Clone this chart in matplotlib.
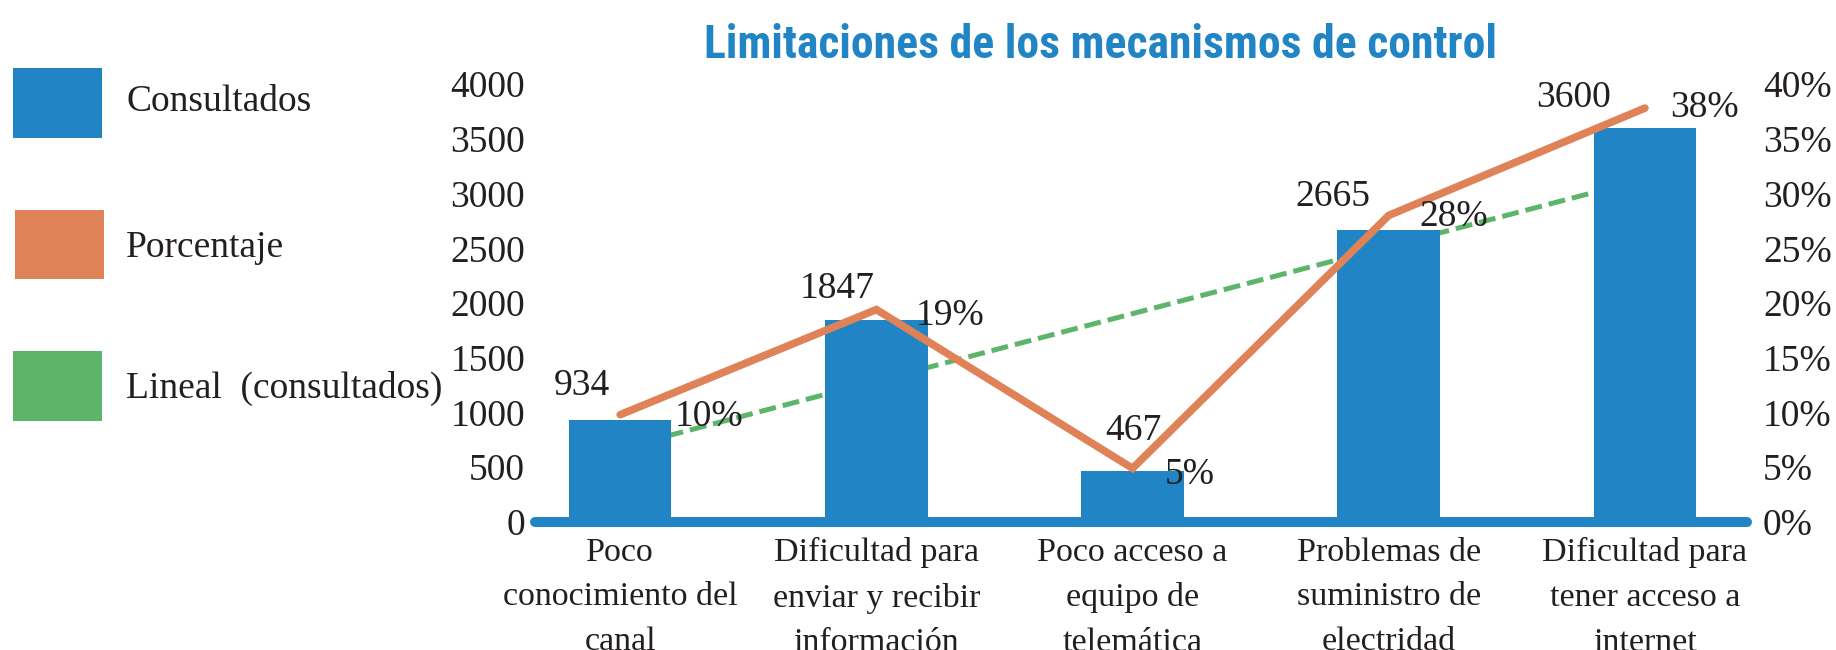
import numpy as np
import matplotlib
matplotlib.use("Agg")
import matplotlib.pyplot as plt
from matplotlib import font_manager
from matplotlib.patches import Rectangle

# datos del grafico
categorias = [
    "Poco\nconocimiento del\ncanal",
    "Dificultad para\nenviar y recibir\ninformación",
    "Poco acceso a\nequipo de\ntelemática",
    "Problemas de\nsuministro de\nelectridad",
    "Dificultad para\ntener acceso a\ninternet",
]
consultados = [934, 1847, 467, 2665, 3600]
porcentaje = [0.098, 0.194, 0.049, 0.280, 0.378]
etiquetas_pct = ["10%", "19%", "5%", "28%", "38%"]
ticks_izq = [0, 500, 1000, 1500, 2000, 2500, 3000, 3500, 4000]
ticks_der = [0.0, 0.05, 0.10, 0.15, 0.20, 0.25, 0.30, 0.35, 0.40]
leyenda = ["Consultados", "Porcentaje", "Lineal  (consultados)"]

# desplazamientos de las etiquetas (pixeles)
off_val = [(-38, 25), (-39, 22), (1, 31), (-56, 24), (-71, 21)]
off_pct = [(55, -11), (39, -15), (32, -16), (31, -11), (25, -9)]

AZUL = "#2185C5"
NARANJA = "#DF8257"
VERDE = "#5DB56B"
TEXTO = "#231F20"


def has_font(name):
    try:
        font_manager.findfont(font_manager.FontProperties(family=name),
                              fallback_to_default=False)
        return True
    except ValueError:
        return False


serif = "Liberation Serif"
titulo_font = "Roboto"
for cand in ["Roboto Condensed", "Liberation Sans Narrow", "Open Sans Condensed"]:
    if has_font(cand):
        titulo_font = cand
        break
plt.rcParams["font.family"] = [serif, "DejaVu Serif"]

W, H = 1836, 650
fig = plt.figure(figsize=(W / 100, H / 100), dpi=100)
ax = fig.add_axes([530 / W, 1 - 522 / H, (1752 - 530) / W, (522 - 84) / H])
ax2 = ax.twinx()

x = np.arange(len(consultados))

# linea de tendencia lineal (detras de las barras)
m, b = np.polyfit(x, consultados, 1)
ax.plot(x, m * x + b, color=VERDE, lw=3.6, ls=(0, (3.4, 1.4)), zorder=1)
ax.bar(x, consultados, width=0.4, color=AZUL, zorder=2)
ax.plot([-0.332, 4.399], [0, 0], color=AZUL, lw=7.2,
        solid_capstyle="round", clip_on=False, zorder=3)

ax2.plot(x, porcentaje, color=NARANJA, lw=5.5, solid_capstyle="round",
         solid_joinstyle="miter", zorder=4)

ax.set_xlim(-0.352, 4.418)
ax.set_ylim(0, 4000)
ax2.set_ylim(0, 0.4)

ax.set_yticks(ticks_izq)
ax.set_yticklabels([str(t) for t in ticks_izq])
ax2.set_yticks(ticks_der)
ax2.set_yticklabels([f"{round(t * 100)}%" for t in ticks_der])
ax.set_xticks(x)
ax.set_xticklabels(categorias, fontsize=24.5, linespacing=1.6, color=TEXTO)

ax.tick_params(axis="y", length=0, pad=3.6, labelsize=27, labelcolor=TEXTO)
ax2.tick_params(axis="y", length=0, pad=8, labelsize=27, labelcolor=TEXTO)
ax.tick_params(axis="x", length=0, pad=11)
for a in (ax, ax2):
    for s in a.spines.values():
        s.set_visible(False)

for i, v in enumerate(consultados):
    ax.annotate(str(v), (i, v), xytext=off_val[i], textcoords="offset pixels",
                ha="center", va="baseline", fontsize=27, color=TEXTO,
                annotation_clip=False)
for i, p in enumerate(porcentaje):
    ax2.annotate(etiquetas_pct[i], (i, p), xytext=off_pct[i],
                 textcoords="offset pixels", ha="left", va="baseline",
                 fontsize=27, color=TEXTO, annotation_clip=False, zorder=5)

# leyenda a la izquierda
cajas = [(13, 68, 89, 70), (15, 210, 89, 69), (13, 351, 89, 70)]
bases = [111, 257, 398]
for (cx, cy, cw, ch), col, txt, yb in zip(cajas, [AZUL, NARANJA, VERDE], leyenda, bases):
    fig.add_artist(Rectangle((cx / W, 1 - (cy + ch) / H), cw / W, ch / H,
                             transform=fig.transFigure, color=col, lw=0))
    fig.text(126 / W, 1 - yb / H, txt, fontsize=27, color=TEXTO,
             ha="left", va="baseline")

titulo = fig.text(1101 / W, 1 - 58 / H, "Limitaciones de los mecanismos de control",
                  fontsize=34, fontweight="bold", color=AZUL, ha="center",
                  va="baseline", family=[titulo_font, "DejaVu Sans"])
fig.canvas.draw()
ancho = titulo.get_window_extent().width
titulo.set_fontsize(34 * 792 / ancho)

fig.savefig("out.png", dpi=100)
